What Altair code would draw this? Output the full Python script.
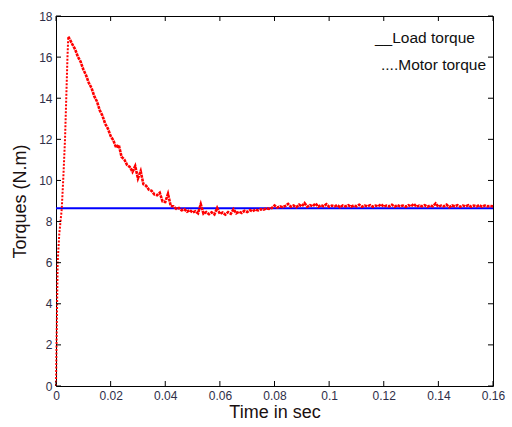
import altair as alt
import pandas as pd

# ---------------- data ----------------
load_t = [0.0, 0.16]
load_v = [8.65, 8.65]

rise_t = [0.0, 0.0002, 0.0004, 0.0006, 0.0012, 0.0021, 0.0027, 0.0033, 0.0038, 0.0042, 0.0045]
rise_v = [0.0, 2.0, 4.0, 6.0, 7.4, 8.6, 10.2, 12.0, 14.2, 16.0, 17.0]

decay_v = [
    16.88, 16.62, 16.38, 16.02, 15.78, 15.40, 15.12, 14.75, 14.50, 14.10,
    13.84, 13.42, 13.15, 12.76, 12.52, 12.16, 11.95, 11.60, 11.72, 11.15,
    11.02, 10.76, 10.66, 10.42, 10.70, 10.10, 10.45, 9.82, 9.74, 9.55,
    9.50, 9.32, 9.28, 9.40, 8.98, 8.95, 9.35, 8.76, 8.74, 8.62,
    8.66, 8.55, 8.60, 8.48, 8.56, 8.44, 8.50, 8.40, 8.85, 8.38,
    8.46, 8.36, 8.45, 8.35, 8.66, 8.37, 8.44, 8.34, 8.46, 8.38,
    8.60, 8.40, 8.48, 8.42, 8.52, 8.46, 8.55, 8.50, 8.58, 8.54,
    8.60, 8.58, 8.64, 8.62, 8.66, 8.78, 8.68, 8.74, 8.70, 8.76,
    8.86, 8.72, 8.78, 8.70, 8.82, 8.74, 8.90, 8.72, 8.80, 8.74,
    8.88, 8.72, 8.80, 8.74, 8.84, 8.72, 8.78, 8.74, 8.80, 8.70,
    8.78, 8.74, 8.80, 8.72, 8.78, 8.74, 8.82, 8.72, 8.78, 8.74,
    8.80, 8.72, 8.78, 8.74, 8.84, 8.72, 8.78, 8.74, 8.82, 8.72,
    8.80, 8.74, 8.78, 8.72, 8.80, 8.74, 8.86, 8.72, 8.78, 8.74,
    8.80, 8.72, 8.78, 8.74, 8.88, 8.72, 8.78, 8.74, 8.82, 8.70,
    8.78, 8.74, 8.80, 8.72, 8.78, 8.74, 8.80, 8.72, 8.78, 8.74,
    8.80, 8.72, 8.78, 8.74, 8.76, 8.74,
]
decay_t = [round(0.0045 + 0.0005 + 0.001 * i, 4) for i in range(len(decay_v))]

x_ticks = [0, 0.02, 0.04, 0.06, 0.08, 0.1, 0.12, 0.14, 0.16]
y_ticks = [0, 2, 4, 6, 8, 10, 12, 14, 16, 18]
legend_labels = ["__Load torque", "....Motor torque"]

# ---------------- layout ----------------
W, H = 437, 370
TICK = 5
LABEL_COLOR = "#2e2e48"
TITLE_COLOR = "#1a1010"
FONT = "Liberation Sans"

load_df = pd.DataFrame({"t": load_t, "v": load_v})
rise_df = pd.DataFrame({"t": rise_t, "v": rise_v})
decay_df = pd.DataFrame({"t": [rise_t[-1]] + decay_t, "v": [rise_v[-1]] + decay_v})
xt_df = pd.DataFrame({"t": x_ticks})
yt_df = pd.DataFrame({"v": y_ticks})
leg_df = pd.DataFrame({"label": legend_labels,
                       "px": [319, 325], "py": [22, 49]})

xscale = alt.Scale(domain=[0, 0.16], nice=False, zero=False)
yscale = alt.Scale(domain=[0, 18], nice=False, zero=False)

xaxis = alt.Axis(values=x_ticks, ticks=False, grid=False, domain=False,
                 labelFlush=False, labelOverlap=False,
                 labelExpr="datum.value + ''", labelPadding=4,
                 labelFontSize=12, labelColor=LABEL_COLOR, labelFont=FONT,
                 title="Time in sec", titleFontSize=18, titleColor=TITLE_COLOR,
                 titleFont=FONT, titleFontWeight="normal", titlePadding=2)
yaxis = alt.Axis(values=y_ticks, ticks=False, grid=False, domain=False,
                 labelFlush=False, labelOverlap=False,
                 labelPadding=4, labelFontSize=12, labelColor=LABEL_COLOR,
                 labelFont=FONT, title="Torques (N.m)", titleFontSize=18,
                 titleColor=TITLE_COLOR, titleFont=FONT,
                 titleFontWeight="normal", titleX=-36, titleY=H / 2,
                 titleBaseline="middle", titleAlign="center", titleAngle=270)

load_line = alt.Chart(load_df).mark_line(color="#0000ff", strokeWidth=2).encode(
    x=alt.X("t:Q", scale=xscale, axis=xaxis),
    y=alt.Y("v:Q", scale=yscale, axis=yaxis),
)

rise_line = alt.Chart(rise_df).mark_line(
    color="#ff0000", strokeWidth=2, strokeDash=[2, 1.5]
).encode(x=alt.X("t:Q", scale=xscale), y=alt.Y("v:Q", scale=yscale))

decay_line = alt.Chart(decay_df).mark_line(
    color="#ff0000", strokeWidth=2.6, strokeDash=[3, 0.8]
).encode(x=alt.X("t:Q", scale=xscale), y=alt.Y("v:Q", scale=yscale))

tick_style = dict(color="#000000", strokeWidth=1)
xt_bottom = alt.Chart(xt_df).mark_rule(**tick_style).encode(
    x=alt.X("t:Q", scale=xscale), y=alt.value(H), y2=alt.value(H - TICK))
xt_top = alt.Chart(xt_df).mark_rule(**tick_style).encode(
    x=alt.X("t:Q", scale=xscale), y=alt.value(0), y2=alt.value(TICK))
yt_left = alt.Chart(yt_df).mark_rule(**tick_style).encode(
    y=alt.Y("v:Q", scale=yscale), x=alt.value(0), x2=alt.value(TICK))
yt_right = alt.Chart(yt_df).mark_rule(**tick_style).encode(
    y=alt.Y("v:Q", scale=yscale), x=alt.value(W), x2=alt.value(W - TICK))

legend = alt.Chart(leg_df).mark_text(
    align="left", baseline="middle", fontSize=15.5, font=FONT, color="#101010"
).encode(x=alt.X("px:Q", scale=None), y=alt.Y("py:Q", scale=None), text="label:N")

chart = alt.layer(
    load_line, rise_line, decay_line, xt_bottom, xt_top, yt_left, yt_right, legend
).properties(
    width=W, height=H,
    autosize=alt.AutoSizeParams(type="none"),
    padding={"left": 56, "top": 16, "right": 19, "bottom": 41},
    background="#ffffff",
).configure_view(stroke="#000000", strokeWidth=1)

chart.save("out.html", embed_options={"renderer": "svg", "actions": False})
